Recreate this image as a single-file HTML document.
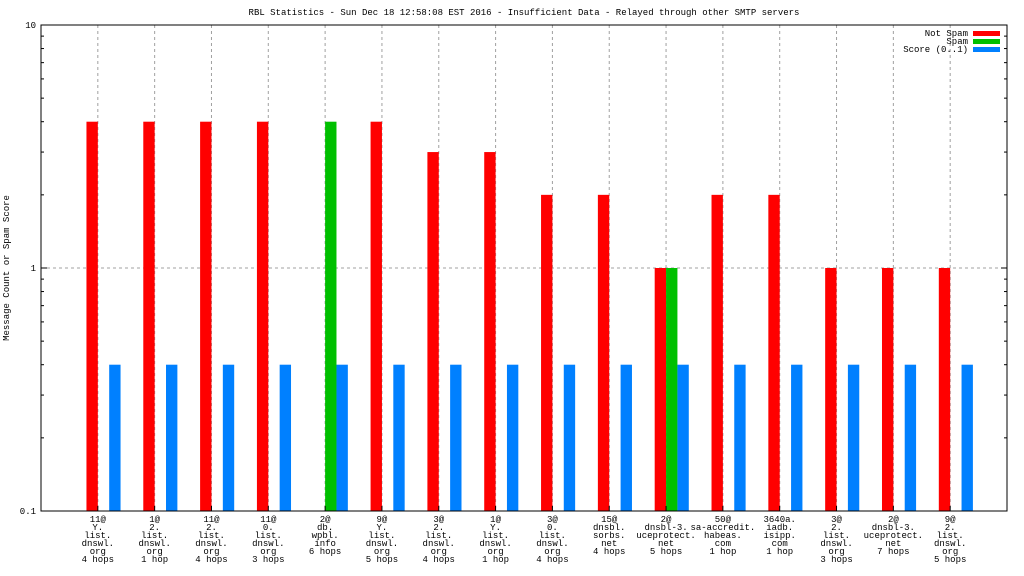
<!DOCTYPE html>
<html><head><meta charset="utf-8"><style>
body{margin:0;background:#fff;}
svg{display:block;font-family:"Liberation Mono",monospace;font-size:9px;}
</style></head><body>
<svg id="chart" width="1024" height="576">
<text x="524" y="15" text-anchor="middle">RBL Statistics - Sun Dec 18 12:58:08 EST 2016 - Insufficient Data - Relayed through other SMTP servers</text>
<text transform="translate(9,268) rotate(-90)" text-anchor="middle">Message Count or Spam Score</text>
<g id="grid"></g><g id="bars"></g><g id="axes"></g><g id="labels"></g>
<g>
<text x="968" y="36" text-anchor="end">Not Spam</text>
<rect x="973" y="31" width="27" height="5" fill="#ff0000"/>
<text x="968" y="44" text-anchor="end">Spam</text>
<rect x="973" y="39" width="27" height="5" fill="#00c000"/>
<text x="968" y="52" text-anchor="end">Score (0..1)</text>
<rect x="973" y="47" width="27" height="5" fill="#0080ff"/>
</g>
</svg>
<script>
const categories=[["11@","Y.","list.","dnswl.","org","4 hops"],["1@","2.","list.","dnswl.","org","1 hop"],["11@","2.","list.","dnswl.","org","4 hops"],["11@","0.","list.","dnswl.","org","3 hops"],["2@","db.","wpbl.","info","6 hops"],["9@","Y.","list.","dnswl.","org","5 hops"],["3@","2.","list.","dnswl.","org","4 hops"],["1@","Y.","list.","dnswl.","org","1 hop"],["3@","0.","list.","dnswl.","org","4 hops"],["15@","dnsbl.","sorbs.","net","4 hops"],["2@","dnsbl-3.","uceprotect.","net","5 hops"],["50@","sa-accredit.","habeas.","com","1 hop"],["3640a.","iadb.","isipp.","com","1 hop"],["3@","2.","list.","dnswl.","org","3 hops"],["2@","dnsbl-3.","uceprotect.","net","7 hops"],["9@","2.","list.","dnswl.","org","5 hops"]];
const notSpam=[4,4,4,4,0,4,3,3,2,2,1,2,2,1,1,1];
const spam=[0,0,0,0,4,0,0,0,0,0,1,0,0,0,0,0];
const score=[0.4,0.4,0.4,0.4,0.4,0.4,0.4,0.4,0.4,0.4,0.4,0.4,0.4,0.4,0.4,0.4];
const yTicks=[0.1,1,10];
const yTickLabels=["0.1","1","10"];
const NS="http://www.w3.org/2000/svg";
const L=41,R=1007,T=25,B=511;
const step=(R-L)/(categories.length+1);
const bw=step/5;
function X(i){return L+(i+1)*step;}
function Y(v){return B-(Math.log10(v)+1)/2*(B-T);}
function mk(p,tag,a){const e=document.createElementNS(NS,tag);for(const k in a)e.setAttribute(k,a[k]);document.getElementById(p).appendChild(e);return e;}
categories.forEach((c,i)=>{
 const g=mk("grid","line",{x1:X(i),x2:X(i),y1:T,y2:B,stroke:"#a0a0a0","stroke-dasharray":"3,3"});
 
 
 const sets=[[notSpam,"#ff0000",-bw,"bar-not-spam"],[spam,"#00c000",0,"bar-spam"],[score,"#0080ff",bw,"bar-score"]];
 sets.forEach(([arr,col,off,nm])=>{
  const v=arr[i]; if(!(v>0))return;
  const y=Y(v);
  const r=mk("bars","rect",{x:X(i)+off,y:y,width:bw,height:B-y,fill:col});
  
  
 });
 c.forEach((s,j)=>{
  const t=mk("labels","text",{x:X(i),y:522+j*8,"text-anchor":"middle"});
  t.textContent=s;
  
  
 });
 mk("axes","line",{x1:X(i),x2:X(i),y1:B,y2:B-5,stroke:"#000"});
});
yTicks.forEach((v,k)=>{
 const y=Y(v);
 if(v===1){const h=mk("grid","line",{x1:L,x2:R,y1:y,y2:y,stroke:"#a0a0a0","stroke-dasharray":"3,3"});
  
  }
 mk("axes","line",{x1:L,x2:L+6,y1:y,y2:y,stroke:"#000"});
 mk("axes","line",{x1:R,x2:R-6,y1:y,y2:y,stroke:"#000"});
 const t=mk("labels","text",{x:L-5,y:y+3,"text-anchor":"end"});
 t.textContent=yTickLabels[k];
 
 
});
for(let d=-1;d<1;d++)for(let m=2;m<10;m++){const y=Y(m*Math.pow(10,d));
 mk("axes","line",{x1:L,x2:L+3,y1:y,y2:y,stroke:"#000"});
 mk("axes","line",{x1:R,x2:R-3,y1:y,y2:y,stroke:"#000"});}
const f=mk("axes","rect",{x:L,y:T,width:R-L,height:B-T,fill:"none",stroke:"#000"});


</script>
</body></html>
